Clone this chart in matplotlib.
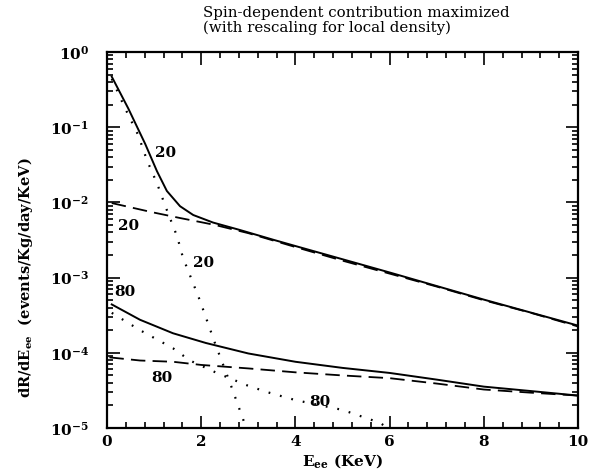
import matplotlib

matplotlib.use("Agg")

import matplotlib.pyplot as plt
import numpy as np
from matplotlib.ticker import FixedLocator, LogLocator, NullFormatter, FuncFormatter

plt.rcParams["font.family"] = "DejaVu Serif"
plt.rcParams["font.weight"] = "bold"
plt.rcParams["mathtext.fontset"] = "dejavuserif"
plt.rcParams["mathtext.default"] = "bf"

# mass 20 GeV curves (solid = total, dashed = spin-independent, dotted = spin-dependent)
x_tot20 = [0.1, 0.45, 0.81, 1.06, 1.27, 1.55, 1.83, 2.25, 2.82, 3.52, 4, 6, 8, 10]
y_tot20 = [4.7e-1, 1.78e-1, 6.0e-2, 2.6e-2, 1.42e-2, 8.9e-3, 6.8e-3, 5.4e-3,
           4.3e-3, 3.2e-3, 2.63e-3, 1.17e-3, 5.1e-4, 2.3e-4]
x_si20 = [0.1, 0.96, 1.55, 1.97, 2.3, 3, 4, 5, 6, 7, 8, 9, 10]
y_si20 = [9.8e-3, 7.4e-3, 6.2e-3, 5.5e-3, 5.0e-3, 3.9e-3, 2.55e-3, 1.68e-3,
          1.13e-3, 7.6e-4, 5.0e-4, 3.4e-4, 2.24e-4]
x_sd20 = [0.1, 0.38, 0.66, 0.85, 1.06, 1.27, 1.49, 1.61, 1.97, 2.29, 2.61, 2.89, 2.96]
y_sd20 = [4.4e-1, 1.8e-1, 7.9e-2, 3.6e-2, 1.8e-2, 7.9e-3, 3.5e-3, 1.86e-3,
          5.0e-4, 1.35e-4, 4.0e-5, 1.3e-5, 1.0e-5]

# mass 80 GeV curves
x_tot80 = [0.1, 0.7, 1.4, 2.1, 3, 4, 5, 6, 7, 8, 9, 10]
y_tot80 = [4.4e-4, 2.75e-4, 1.82e-4, 1.35e-4, 9.8e-5, 7.6e-5, 6.3e-5, 5.4e-5,
           4.4e-5, 3.55e-5, 3.1e-5, 2.7e-5]
x_si80 = [0.05, 0.7, 1.4, 2, 3, 4, 5, 6, 7, 8, 9, 10]
y_si80 = [8.7e-5, 7.9e-5, 7.6e-5, 6.9e-5, 6.2e-5, 5.5e-5, 5.0e-5, 4.6e-5,
          3.9e-5, 3.25e-5, 2.95e-5, 2.7e-5]
x_sd80 = [0.1, 0.7, 1.4, 1.76, 2.33, 2.97, 3.4, 4, 5, 5.8, 5.95]
y_sd80 = [3.4e-4, 2.0e-4, 1.15e-4, 7.9e-5, 5.4e-5, 3.7e-5, 3.0e-5, 2.35e-5,
          1.74e-5, 1.17e-5, 1.0e-5]

# curve labels
lbl_x = [1.24, 0.45, 2.04, 0.38, 1.17, 4.52]
lbl_y = [4.5e-2, 4.9e-3, 1.55e-3, 6.4e-4, 4.6e-5, 2.2e-5]
lbl_txt = ["20", "20", "20", "80", "80", "80"]

fig = plt.figure(figsize=(5.98, 4.72), dpi=100)
ax = fig.add_axes([0.179, 0.0932, 0.7876, 0.7966])

ax.plot(x_tot20, y_tot20, color="black", lw=1.4)
ax.plot(x_si20, y_si20, color="black", lw=1.3, ls=(0, (8, 4)))
ax.plot(x_sd20, y_sd20, color="black", lw=1.6, ls=(0, (0.8, 4.5)))
ax.plot(x_tot80, y_tot80, color="black", lw=1.4)
ax.plot(x_si80, y_si80, color="black", lw=1.3, ls=(0, (8, 4)))
ax.plot(x_sd80, y_sd80, color="black", lw=1.6, ls=(0, (0.8, 4.5)))

for tx, ty, t in zip(lbl_x, lbl_y, lbl_txt):
    ax.text(tx, ty, t, fontsize=11, fontweight="bold", ha="center", va="center")

ax.set_xlim(0, 10)
ax.set_yscale("log")
ax.set_ylim(1e-5, 1)

ax.xaxis.set_major_locator(FixedLocator([0, 2, 4, 6, 8, 10]))
ax.xaxis.set_minor_locator(FixedLocator(np.arange(0, 10.01, 0.4)))
ax.yaxis.set_major_locator(LogLocator(base=10, numticks=10))
ax.yaxis.set_minor_locator(LogLocator(base=10, subs=np.arange(2, 10), numticks=20))
ax.yaxis.set_minor_formatter(NullFormatter())
ax.yaxis.set_major_formatter(FuncFormatter(lambda v, p: "10$^{%d}$" % round(np.log10(v))))

ax.tick_params(which="both", direction="in", top=True, right=True, width=1.2, labelsize=11)
ax.tick_params(which="major", length=9)
ax.tick_params(which="minor", length=4.5)
ax.tick_params(axis="y", which="major", pad=13)
ax.tick_params(axis="x", which="major", pad=5)
for s in ax.spines.values():
    s.set_linewidth(1.6)

ax.set_xlabel("E$_{ee}$ (KeV)", fontsize=11, fontweight="bold", labelpad=2)
ax.set_ylabel("dR/dE$_{ee}$  (events/Kg/day/KeV)", fontsize=10.5, fontweight="bold")
ax.yaxis.set_label_coords(-0.152, 0.40)

fig.text(0.34, 0.972, "Spin-dependent contribution maximized", fontsize=10.8,
         fontweight="normal", va="center", ha="left")
fig.text(0.34, 0.942, "(with rescaling for local density)", fontsize=10.8,
         fontweight="normal", va="center", ha="left")

fig.savefig("out.png", dpi=100, facecolor="white")
